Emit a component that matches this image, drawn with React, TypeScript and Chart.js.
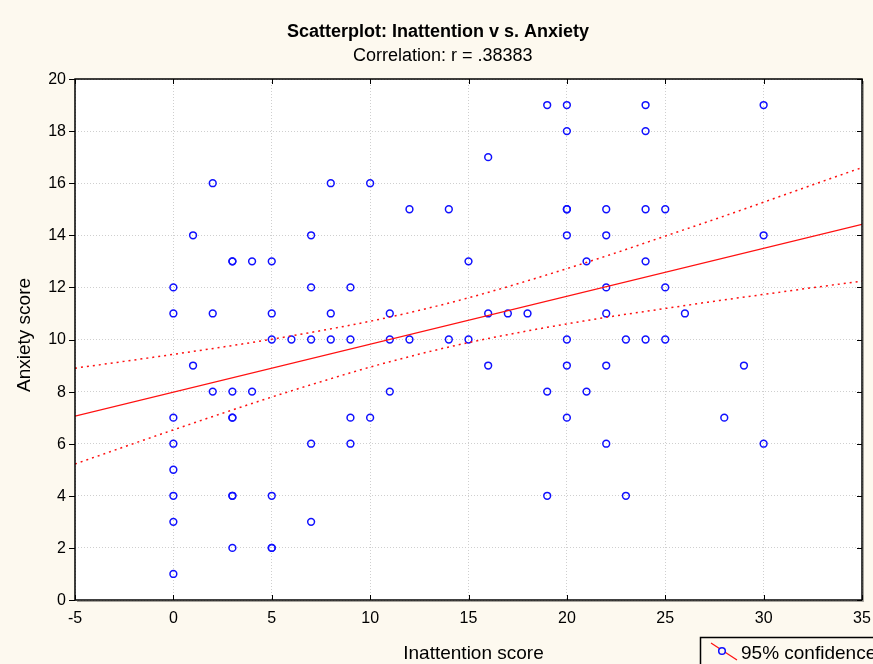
import React, { useEffect, useRef } from "react";
import { Chart, registerables } from "chart.js";

Chart.register(...registerables);

// Observed scores (Inattention, Anxiety)
const inattention = [
  0, 0, 0, 0, 0, 0, 0, 0,
  1, 1,
  2, 2, 2,
  3, 3, 3, 3, 3, 3, 3, 3,
  4, 4,
  5, 5, 5, 5, 5, 5,
  6,
  7, 7, 7, 7, 7,
  8, 8, 8,
  9, 9, 9, 9,
  10, 10,
  11, 11, 11,
  12, 12,
  14, 14,
  15, 15,
  16, 16, 16,
  17,
  18,
  19, 19, 19,
  20, 20, 20, 20, 20, 20, 20, 20,
  21, 21,
  22, 22, 22, 22, 22, 22,
  23, 23,
  24, 24, 24, 24, 24,
  25, 25, 25,
  26,
  28,
  29,
  30, 30, 30,
];
const anxiety = [
  12, 11, 7, 6, 5, 4, 3, 1,
  14, 9,
  16, 11, 8,
  13, 13, 8, 7, 7, 4, 4, 2,
  13, 8,
  13, 11, 10, 4, 2, 2,
  10,
  14, 12, 10, 6, 3,
  16, 11, 10,
  12, 10, 7, 6,
  16, 7,
  11, 10, 8,
  15, 10,
  15, 10,
  13, 10,
  17, 11, 9,
  11,
  11,
  19, 8, 4,
  19, 18, 15, 15, 14, 10, 9, 7,
  13, 8,
  15, 14, 12, 11, 9, 6,
  10, 4,
  19, 18, 15, 13, 10,
  15, 12, 10,
  11,
  7,
  9,
  19, 14, 6,
];

// Fitted regression line (read at the axis ends)
const fitX = [-5, 35];
const fitY = [7.06, 14.42];

// 95% confidence band
const bandX = [-5, -2.5, 0, 2.5, 5, 7.5, 10, 12.5, 15, 17.5, 20, 22.5, 25, 27.5, 30, 32.5, 35];
const bandUpper = [8.9, 9.16, 9.43, 9.71, 10.01, 10.34, 10.7, 11.12, 11.6, 12.14, 12.72, 13.33, 13.97, 14.61, 15.27, 15.94, 16.6];
const bandLower = [5.22, 5.88, 6.53, 7.17, 7.79, 8.38, 8.94, 9.44, 9.88, 10.26, 10.6, 10.91, 11.19, 11.47, 11.73, 11.99, 12.24];

const xTicks = [-5, 0, 5, 10, 15, 20, 25, 30, 35];
const xTickLabels = ["-5", "0", "5", "10", "15", "20", "25", "30", "35"];
const yTicks = [0, 2, 4, 6, 8, 10, 12, 14, 16, 18, 20];
const yTickLabels = ["0", "2", "4", "6", "8", "10", "12", "14", "16", "18", "20"];

const titleText = "Scatterplot: Inattention v s. Anxiety";
const subtitleText = "Correlation: r = .38383";
const xTitle = "Inattention score";
const yTitle = "Anxiety score";
const legendText = "95% confidence";

const FONT = "'Liberation Sans', Arial, sans-serif";
const BG = "#fdf9ef";
const BLUE = "#1010ff";
const RED = "#ff1010";

const decorPlugin = {
  id: "decor",
  beforeDraw(chart: any) {
    const { ctx, chartArea } = chart;
    ctx.save();
    ctx.fillStyle = BG;
    ctx.fillRect(0, 0, chart.width, chart.height);
    ctx.fillStyle = "#ffffff";
    ctx.fillRect(chartArea.left, chartArea.top, chartArea.right - chartArea.left, chartArea.bottom - chartArea.top);
    ctx.restore();
  },
  afterDraw(chart: any) {
    const { ctx, chartArea } = chart;
    const { left, right, top, bottom } = chartArea;
    const xs = chart.scales.x;
    const ys = chart.scales.y;
    ctx.save();
    // titles
    ctx.fillStyle = "#000";
    ctx.textBaseline = "alphabetic";
    ctx.textAlign = "center";
    ctx.font = `bold 18px ${FONT}`;
    ctx.fillText(titleText, 438, 36.5);
    ctx.textAlign = "left";
    ctx.font = `18px ${FONT}`;
    ctx.fillText(subtitleText, 353, 60.5);

    // tick labels
    ctx.font = `16px ${FONT}`;
    ctx.textAlign = "center";
    xTicks.forEach((v, i) => {
      ctx.fillText(xTickLabels[i], xs.getPixelForValue(v), 623);
    });
    ctx.textAlign = "right";
    ctx.textBaseline = "middle";
    yTicks.forEach((v, i) => {
      ctx.fillText(yTickLabels[i], 66, ys.getPixelForValue(v) + 0.5);
    });

    // axis titles
    ctx.font = `19px ${FONT}`;
    ctx.textAlign = "center";
    ctx.textBaseline = "alphabetic";
    ctx.fillText(xTitle, 473.5, 658.5);
    ctx.save();
    ctx.translate(30, 335);
    ctx.rotate(-Math.PI / 2);
    ctx.fillText(yTitle, 0, 0);
    ctx.restore();

    // ticks
    ctx.strokeStyle = "#000";
    ctx.lineWidth = 1;
    ctx.beginPath();
    xTicks.forEach((v) => {
      const px = Math.round(xs.getPixelForValue(v)) + 0.5;
      ctx.moveTo(px, top);
      ctx.lineTo(px, top + 5);
      ctx.moveTo(px, bottom);
      ctx.lineTo(px, bottom - 5);
    });
    yTicks.forEach((v) => {
      const py = Math.round(ys.getPixelForValue(v)) + 0.5;
      ctx.moveTo(left, py);
      ctx.lineTo(left - 6, py);
      ctx.moveTo(right, py);
      ctx.lineTo(right - 5, py);
    });
    ctx.stroke();

    // frame
    ctx.lineWidth = 1.5;
    ctx.strokeRect(left, top, right - left, bottom - top);
    ctx.strokeStyle = "rgba(0,0,0,0.35)";
    ctx.lineWidth = 1;
    ctx.beginPath();
    ctx.moveTo(right + 1.5, top + 2);
    ctx.lineTo(right + 1.5, bottom + 1.5);
    ctx.lineTo(left + 2, bottom + 1.5);
    ctx.stroke();

    // legend
    ctx.strokeStyle = "#000";
    ctx.lineWidth = 1.5;
    ctx.strokeRect(700.5, 637.5, 220, 40);
    ctx.strokeStyle = RED;
    ctx.lineWidth = 1.2;
    ctx.beginPath();
    ctx.moveTo(711, 643);
    ctx.lineTo(737, 660);
    ctx.stroke();
    ctx.fillStyle = BG;
    ctx.strokeStyle = BLUE;
    ctx.lineWidth = 1.5;
    ctx.beginPath();
    ctx.arc(722, 651, 3.3, 0, Math.PI * 2);
    ctx.fill();
    ctx.stroke();
    ctx.fillStyle = "#000";
    ctx.textAlign = "left";
    ctx.textBaseline = "alphabetic";
    ctx.font = `19px ${FONT}`;
    ctx.fillText(legendText, 741, 658.5);
    ctx.restore();
  },
};

export default function App() {
  const ref = useRef<HTMLCanvasElement | null>(null);
  useEffect(() => {
    if (!ref.current) return;
    const points = inattention.map((x, i) => ({ x, y: anxiety[i] }));
    const fit = fitX.map((x, i) => ({ x, y: fitY[i] }));
    const upper = bandX.map((x, i) => ({ x, y: bandUpper[i] }));
    const lower = bandX.map((x, i) => ({ x, y: bandLower[i] }));
    const chart = new Chart(ref.current, {
      type: "scatter",
      data: {
        datasets: [
          {
            data: upper,
            showLine: true,
            borderColor: RED,
            borderWidth: 1.5,
            borderDash: [2, 4],
            pointRadius: 0,
            fill: false,
            cubicInterpolationMode: "monotone",
          } as any,
          {
            data: lower,
            showLine: true,
            borderColor: RED,
            borderWidth: 1.5,
            borderDash: [2, 4],
            pointRadius: 0,
            fill: false,
            cubicInterpolationMode: "monotone",
          } as any,
          {
            data: fit,
            showLine: true,
            borderColor: RED,
            borderWidth: 1.3,
            pointRadius: 0,
            fill: false,
          },
          {
            data: points,
            showLine: false,
            pointStyle: "circle",
            pointRadius: 3.4,
            pointBorderWidth: 1.5,
            pointBorderColor: BLUE,
            pointBackgroundColor: "rgba(0,0,0,0)",
          } as any,
        ],
      },
      options: {
        animation: false,
        responsive: false,
        devicePixelRatio: 1,
        layout: { padding: { left: 0, right: 11, top: 79, bottom: 0 } },
        plugins: {
          legend: { display: false },
          title: { display: false },
          tooltip: { enabled: false },
        },
        scales: {
          x: {
            type: "linear",
            min: -5,
            max: 35,
            afterFit: (s: any) => {
              s.height = 64;
            },
            afterBuildTicks: (s: any) => {
              s.ticks = xTicks.map((v) => ({ value: v }));
            },
            ticks: { display: false },
            grid: { color: "#cfcfcf", lineWidth: 1, drawTicks: false },
            border: { display: false, dash: [1, 2] },
            title: { display: false },
          },
          y: {
            type: "linear",
            min: 0,
            max: 20,
            afterFit: (s: any) => {
              s.width = 75;
            },
            afterBuildTicks: (s: any) => {
              s.ticks = yTicks.map((v) => ({ value: v }));
            },
            ticks: { display: false },
            grid: { color: "#cfcfcf", lineWidth: 1, drawTicks: false },
            border: { display: false, dash: [1, 2] },
            title: { display: false },
          },
        },
      } as any,
      plugins: [decorPlugin],
    });
    return () => chart.destroy();
  }, []);
  return (
    <div style={{ position: "fixed", left: 0, top: 0, width: 873, height: 664, background: BG }}>
      <canvas ref={ref} width={873} height={664} style={{ display: "block" }} />
    </div>
  );
}
